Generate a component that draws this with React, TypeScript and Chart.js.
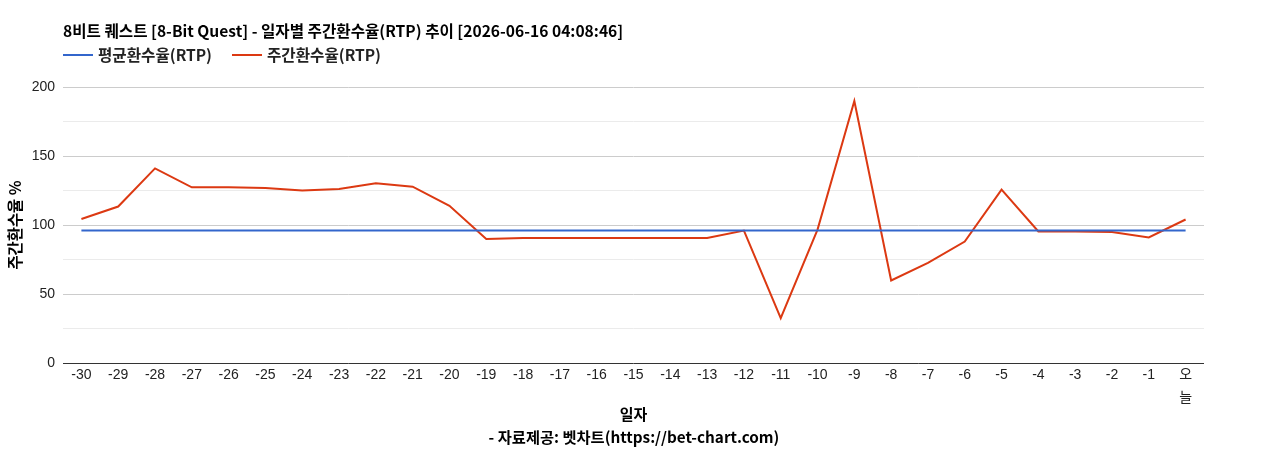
import React, { useEffect, useRef } from "react";
import { Chart, registerables } from "chart.js";

Chart.register(...registerables);

const TITLE = "8비트 퀘스트 [8-Bit Quest] - 일자별 주간환수율(RTP) 추이 [2026-06-16 04:08:46]";
const FOOTER = "- 자료제공: 벳차트(https://bet-chart.com)";
const X_TITLE = "일자";
const Y_TITLE = "주간환수율 %";

const categories: (string | string[])[] = [
  "-30", "-29", "-28", "-27", "-26", "-25", "-24", "-23", "-22", "-21",
  "-20", "-19", "-18", "-17", "-16", "-15", "-14", "-13", "-12", "-11",
  "-10", "-9", "-8", "-7", "-6", "-5", "-4", "-3", "-2", "-1", ["오", "늘"],
];

const avgLabel = "평균환수율(RTP)";
const avgValues = [
  96, 96, 96, 96, 96, 96, 96, 96, 96, 96,
  96, 96, 96, 96, 96, 96, 96, 96, 96, 96,
  96, 96, 96, 96, 96, 96, 96, 96, 96, 96, 96,
];

const weeklyLabel = "주간환수율(RTP)";
const weeklyValues = [
  104.3, 113.4, 141.0, 127.3, 127.3, 126.9, 125.0, 126.1, 130.2, 127.8,
  113.9, 89.9, 90.6, 90.6, 90.6, 90.6, 90.6, 90.6, 96.0, 32.5,
  96.7, 189.9, 59.8, 72.5, 88.0, 125.6, 95.3, 95.2, 95.0, 91.0, 104.0,
];

const yTicks = [0, 50, 100, 150, 200];

const BLUE = "#3366cc";
const RED = "#dc3912";
const LATIN = "'Liberation Sans', Arial, 'Noto Sans CJK KR', sans-serif";
const BOLD = "'Noto Sans CJK KR', 'Liberation Sans', sans-serif";

const headerPlugin = {
  id: "header",
  afterDraw(chart: any) {
    const ctx = chart.ctx as CanvasRenderingContext2D;
    const left = chart.chartArea.left;
    ctx.save();
    ctx.fillStyle = "#000";
    ctx.textBaseline = "middle";
    ctx.textAlign = "left";
    ctx.font = `bold 15.6px ${BOLD}`;
    ctx.fillText(TITLE, left, 31);

    ctx.font = `bold 15.6px ${BOLD}`;
    let x = left;
    chart.data.datasets.forEach((ds: any) => {
      ctx.strokeStyle = ds.borderColor;
      ctx.lineWidth = 2;
      ctx.beginPath();
      ctx.moveTo(x, 55);
      ctx.lineTo(x + 30, 55);
      ctx.stroke();
      ctx.fillStyle = "#222";
      ctx.fillText(ds.label, x + 35, 55);
      x += 35 + ctx.measureText(ds.label).width + 20;
    });

    ctx.textAlign = "center";
    ctx.fillStyle = "#000";
    ctx.font = `bold 15.3px ${BOLD}`;
    ctx.fillText(FOOTER, chart.width / 2, 437);
    ctx.restore();
  },
};

export default function App() {
  const ref = useRef<HTMLCanvasElement | null>(null);
  useEffect(() => {
    document.body.style.margin = "0";
    const canvas = ref.current;
    if (!canvas) return;
    const chart = new Chart(canvas, {
      type: "line",
      data: {
        labels: categories as any,
        datasets: [
          {
            label: avgLabel,
            data: avgValues,
            borderColor: BLUE,
            backgroundColor: BLUE,
            borderWidth: 2,
            pointRadius: 0,
            tension: 0,
          },
          {
            label: weeklyLabel,
            data: weeklyValues,
            borderColor: RED,
            backgroundColor: RED,
            borderWidth: 2,
            pointRadius: 0,
            tension: 0,
          },
        ],
      },
      options: {
        responsive: false,
        animation: false,
        layout: { padding: { left: 0, right: 64, top: 87, bottom: 0 } },
        plugins: {
          legend: { display: false },
          title: { display: false },
          tooltip: { enabled: false },
        },
        scales: {
          x: {
            offset: true,
            grid: { display: false, drawTicks: false },
            border: { display: false },
            ticks: {
              autoSkip: false,
              maxRotation: 0,
              padding: 1,
              color: "#222",
              font: { family: LATIN, size: 14, lineHeight: "23px" },
            },
            title: {
              display: true,
              text: X_TITLE,
              color: "#000",
              font: { family: BOLD, size: 15, weight: "bold" },
              padding: { top: 0, bottom: 27 },
            },
            afterFit: (s: any) => {
              s.height = 87;
            },
          },
          y: {
            min: 0,
            max: 200,
            border: { display: false },
            grid: {
              drawTicks: false,
              color: (c: any) => {
                const v = c.tick ? c.tick.value : 0;
                if (v === 0) return "#333333";
                return yTicks.includes(v) ? "#cccccc" : "#ebebeb";
              },
              lineWidth: 1,
            },
            ticks: {
              stepSize: 25,
              padding: 8,
              color: "#222",
              font: { family: LATIN, size: 14 },
              callback: (v: any) => (yTicks.includes(Number(v)) ? String(v) : ""),
            },
            title: {
              display: true,
              text: Y_TITLE,
              color: "#000",
              font: { family: BOLD, size: 15.4, weight: "bold" },
              padding: { top: 6, bottom: 0 },
            },
            afterFit: (s: any) => {
              s.width = 63;
            },
          },
        },
      },
      plugins: [headerPlugin],
    });
    return () => chart.destroy();
  }, []);
  return (
    <div style={{ width: 1268, height: 450 }}>
      <canvas ref={ref} width={1268} height={450} />
    </div>
  );
}
